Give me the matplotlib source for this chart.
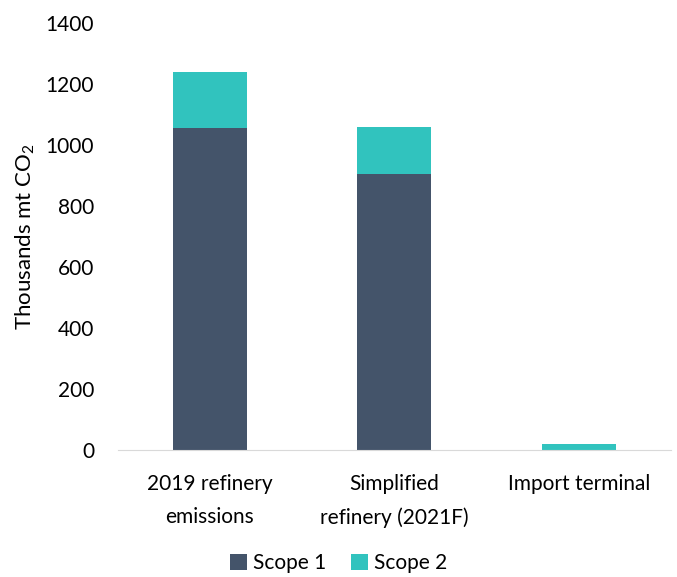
import matplotlib.pyplot as plt
import numpy as np

plt.rcParams['font.family'] = ['Lato', 'DejaVu Sans']
plt.rcParams['mathtext.fontset'] = 'custom'
plt.rcParams['mathtext.rm'] = 'Lato'
plt.rcParams['mathtext.it'] = 'Lato'

categories = ['2019 refinery\nemissions', 'Simplified\nrefinery (2021F)', 'Import terminal']
scope1 = [1055, 905, 0]
scope2 = [185, 155, 20]
yticks = [0, 200, 400, 600, 800, 1000, 1200, 1400]

fig = plt.figure(figsize=(6.77, 5.77), dpi=100)
ax = fig.add_axes([0.174, 0.22, 0.817, 0.74])

x = np.arange(len(categories))
ax.bar(x, scope1, width=0.4, color='#44546A', label='Scope 1')
ax.bar(x, scope2, width=0.4, bottom=scope1, color='#31C3BE', label='Scope 2')

ax.set_xlim(-0.5, 2.5)
ax.set_ylim(0, 1400)
ax.set_yticks(yticks)
ax.set_xticks(x)
ax.set_xticklabels(categories, fontsize=15, linespacing=1.85)
ax.tick_params(axis='y', labelsize=15, length=0, pad=17)
ax.tick_params(axis='x', length=0, pad=17)
ax.set_ylabel('Thousands mt CO$_2$', fontsize=16, labelpad=6)

for side in ['top', 'right', 'left']:
    ax.spines[side].set_visible(False)
ax.spines['bottom'].set_color('#D9D9D9')

fig.legend(loc='center', bbox_to_anchor=(0.5, 0.024), ncol=2, frameon=False,
           fontsize=15, handlelength=0.8, handleheight=0.8, handletextpad=0.3,
           columnspacing=1.2)

fig.savefig('out.png', dpi=100)
